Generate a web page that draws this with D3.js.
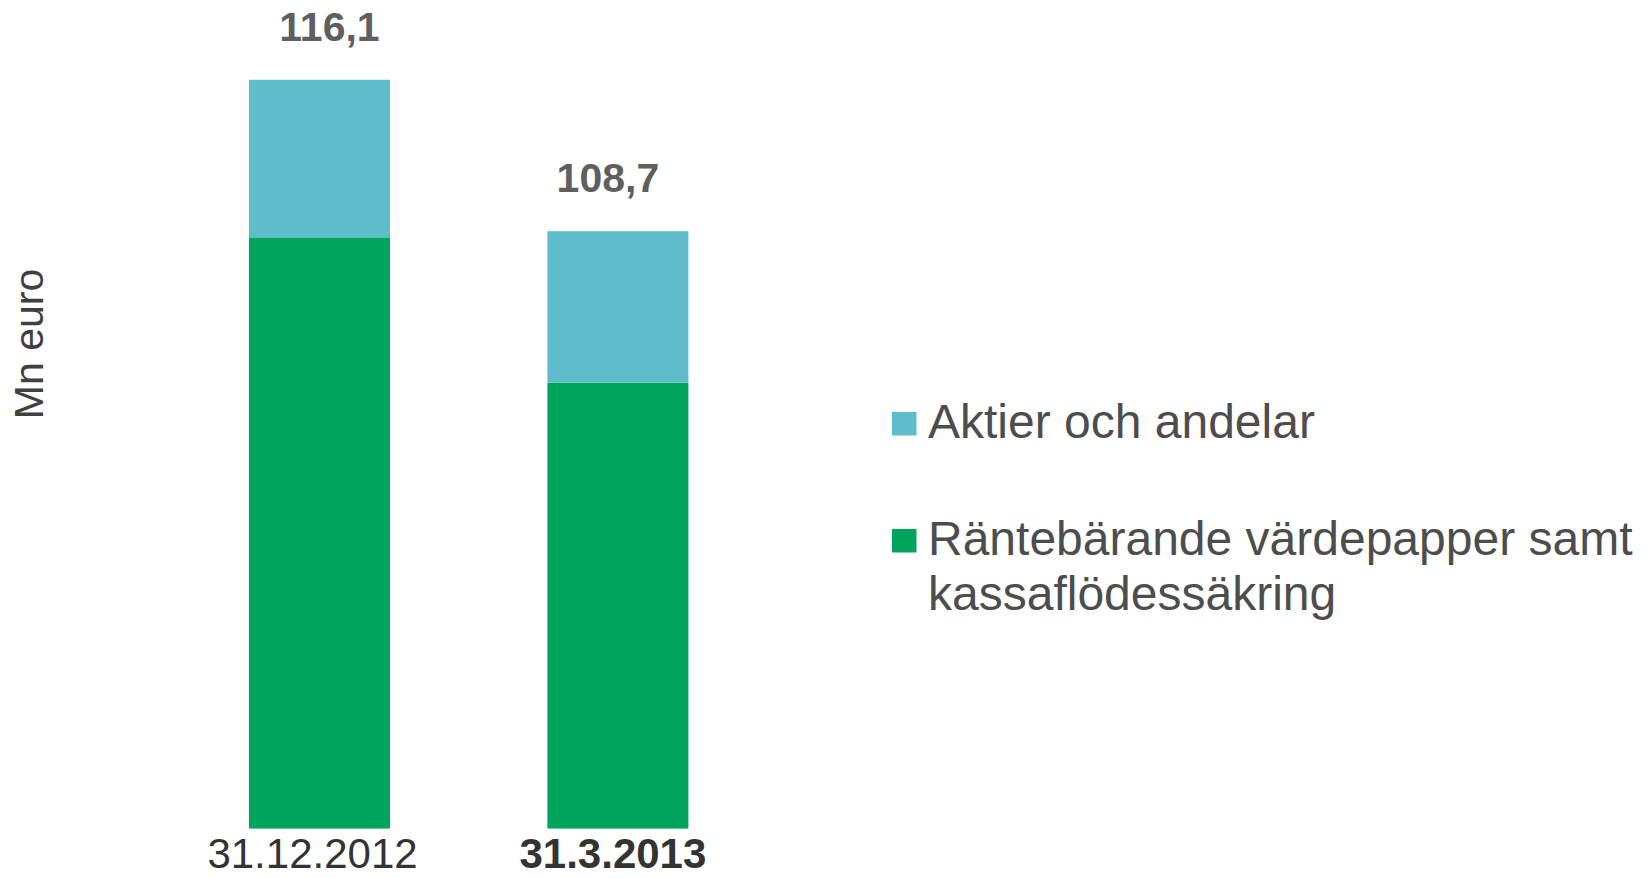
<!DOCTYPE html>
<html>
<head>
<meta charset="utf-8">
<script src="https://cdnjs.cloudflare.com/ajax/libs/d3/7.8.5/d3.min.js"></script>
<style>
  body { margin: 0; background: #fff; }
  svg text { font-family: "Liberation Sans", Arial, sans-serif; }
</style>
</head>
<body>
<div id="chart"></div>
<script>
// data
var categories = ["31.12.2012", "31.3.2013"];
var aktier = [7.7, 7.4];          // Aktier och andelar
var rantebarande = [108.4, 101.3]; // Räntebärande värdepapper samt kassaflödessäkring
var totals = ["116,1", "108,7"];
var seriesNames = ["Aktier och andelar", "Räntebärande värdepapper samt kassaflödessäkring"];

// dimensions of the svg
var width = 1649,
    height = 878;
var colors = {aktier: "#5EBCCB", ranta: "#00A55D"};

function drawChart() {
  var svg = d3.select("#chart")
              .append("svg")
              .attr("width", width)
              .attr("height", height);

  // scales
  var xScale = d3.scaleBand()
                 .domain(categories)
                 .range([91.6, 845.8])
                 .padding(0.5275);
  var yScale = d3.scaleLinear()
                 .domain([79.5, 120])
                 .range([828.6, 0]);

  var rows = categories.map(function (c, i) {
    return {cat: c, ranta: rantebarande[i], aktier: aktier[i], label: totals[i]};
  });
  var stack = d3.stack().keys(["ranta", "aktier"])(rows);

  // bars
  svg.append("g")
     .selectAll("g")
     .data(stack)
     .enter()
     .append("g")
     .attr("fill", function (s) { return colors[s.key]; })
     .selectAll("rect")
     .data(function (s) { return s; })
     .enter()
     .append("rect")
     .attr("x", function (d) { return xScale(d.data.cat); })
     .attr("y", function (d) { return yScale(d[1]); })
     .attr("width", xScale.bandwidth())
     .attr("height", function (d) {
       var lo = d[0] === 0 ? yScale.domain()[0] : d[0];
       return yScale(lo) - yScale(d[1]);
     });

  // total labels (hand placed in the original, slightly off centre)
  svg.append("g")
     .selectAll("text")
     .data(rows)
     .enter()
     .append("text")
     .attr("x", function (d) { return xScale(d.cat) + xScale.bandwidth() / 2; })
     .attr("dx", function (d, i) { return i === 0 ? 10 : -10; })
     .attr("y", function (d) { return yScale(d.ranta + d.aktier) - 39; })
     .attr("text-anchor", "middle")
     .style("font-size", "41px")
     .style("font-weight", "bold")
     .style("fill", "#5f5f5f")
     .text(function (d) { return d.label; });

  // x axis, no line or ticks
  var xAxis = svg.append("g")
     .attr("transform", "translate(0," + 828.6 + ")")
     .call(d3.axisBottom(xScale).tickSize(0).tickPadding(0));
  xAxis.select(".domain").remove();
  xAxis.selectAll("text")
     .attr("y", 39)
     .attr("dy", 0)
     .attr("dx", function (d, i) { return i === 0 ? -7 : -5; })
     .style("font-size", "42px")
     .style("font-family", "'Liberation Sans', Arial, sans-serif")
     .style("font-weight", function (d, i) { return i === 1 ? "bold" : "normal"; })
     .style("fill", "#333");

  // y label
  svg.append("text")
     .attr("transform", "translate(43,344) rotate(-90)")
     .attr("text-anchor", "middle")
     .style("font-size", "41px")
     .style("fill", "#404040")
     .text("Mn euro");

  // legend
  var legend = svg.append("g").attr("transform", "translate(892,0)");
  var items = [
    {name: seriesNames[0], color: colors.aktier, y: 438, lines: ["Aktier och andelar"]},
    {name: seriesNames[1], color: colors.ranta, y: 555, lines: ["Räntebärande värdepapper samt", "kassaflödessäkring"]}
  ];
  items.forEach(function (it) {
    legend.append("rect")
          .attr("x", 0)
          .attr("y", it.y - 26)
          .attr("width", 24.5)
          .attr("height", 23.5)
          .attr("fill", it.color);
    var t = legend.append("text")
          .attr("x", 36)
          .attr("y", it.y)
          .style("font-size", "48px")
          .style("fill", "#4d4d4d");
    it.lines.forEach(function (l, j) {
      t.append("tspan")
       .attr("x", 36)
       .attr("dy", j === 0 ? 0 : 55)
       .text(l);
    });
  });
}

drawChart();
</script>
</body>
</html>
